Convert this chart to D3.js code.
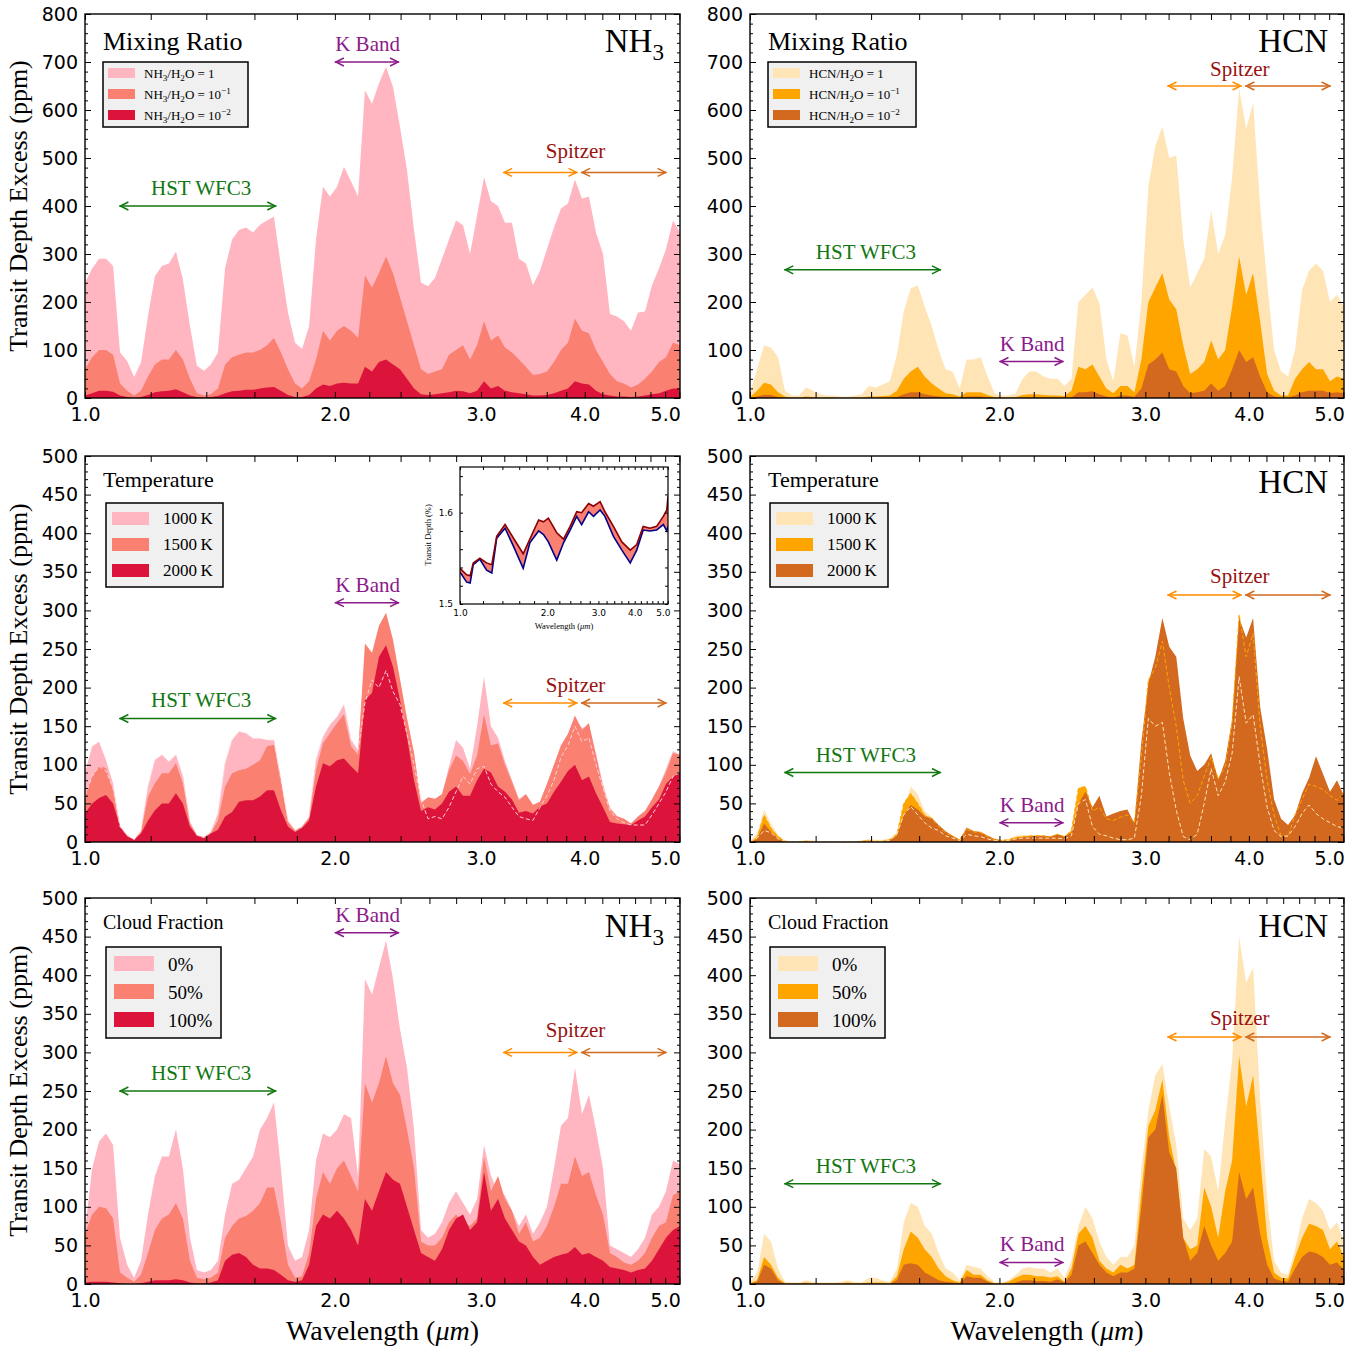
<!DOCTYPE html>
<html>
<head>
<meta charset="utf-8">
<script src="https://cdn.jsdelivr.net/npm/d3@7"></script>
<style>
  body { margin: 0; background: #fff; }
  svg { display: block; }
</style>
</head>
<body>
<svg id="chart"></svg>
<script>
// ---- wavelength grid (micron), shared by all six panels
const wave = [1.000,1.020,1.040,1.060,1.081,1.102,1.124,1.146,1.168,1.191,
  1.214,1.238,1.262,1.287,1.312,1.338,1.364,1.391,1.418,1.446,
  1.475,1.504,1.533,1.563,1.594,1.625,1.657,1.689,1.722,1.756,
  1.791,1.826,1.862,1.898,1.935,1.973,2.012,2.051,2.092,2.133,
  2.174,2.217,2.260,2.305,2.350,2.396,2.443,2.491,2.540,2.590,
  2.640,2.692,2.745,2.799,2.854,2.910,2.967,3.025,3.084,3.145,
  3.206,3.269,3.333,3.398,3.465,3.533,3.602,3.673,3.745,3.818,
  3.893,3.970,4.047,4.127,4.208,4.290,4.374,4.460,4.548,4.637,
  4.728,4.820,4.915,5.011,5.110,5.210];

// ---- top row: mixing ratio (ppm)
const aPink = [240,270,290,290,275,95,77,44,74,171, 254,275,280,305,247,150,67,57,70,95,
  271,330,350,355,345,361,370,378,275,178, 115,102,150,330,440,420,440,482,451,420,
  641,613,655,690,648,565,475,350,240,233, 250,290,330,370,360,300,380,460,410,400,
  365,365,290,280,235,265,310,355,395,405, 455,415,420,345,300,175,170,160,140,178,
  180,235,270,310,370,345];
const aMid = [60,85,100,100,90,30,15,5,15,45, 70,80,80,100,80,40,10,5,8,20,
  70,85,90,95,95,100,110,125,95,60, 30,20,35,80,140,120,140,150,140,125,
  255,230,260,295,260,210,160,110,60,50, 55,60,90,100,110,80,110,160,120,130,
  105,95,80,65,48,50,55,75,100,115, 165,140,135,100,75,50,35,30,22,28,
  40,55,75,85,115,110];
const aLow = [5,10,15,15,13,5,2,0,2,6, 12,14,15,18,12,5,2,1,2,4,
  10,14,15,17,17,20,22,23,15,6, 2,2,6,20,28,25,30,32,30,30,
  65,55,75,80,70,60,40,20,8,6, 8,10,12,15,14,10,15,35,20,25,
  15,12,10,8,5,5,6,10,15,20, 35,30,28,15,8,5,3,3,2,3,
  5,8,10,15,20,20];
const bLight = [10,60,110,105,85,15,5,5,22,15, 8,5,5,3,3,5,8,25,22,28,
  35,90,180,228,235,190,150,100,60,55, 20,80,80,85,45,10,5,5,10,40,
  55,55,45,40,40,25,40,200,215,230, 198,80,35,135,130,65,200,440,525,565,
  500,505,330,230,260,290,390,300,340,460, 645,560,615,400,240,100,55,45,100,225,
  265,280,265,200,215,190];
const bMid = [2,15,32,28,12,3,1,1,3,2, 1,1,1,0,0,1,1,3,3,4,
  5,15,40,55,65,45,30,20,10,8, 3,12,12,12,6,2,1,1,2,6,
  8,8,6,5,5,4,15,65,60,70, 45,20,10,25,25,12,80,200,230,260,
  205,185,110,50,60,75,120,80,100,190, 295,215,260,160,50,15,5,5,40,60,
  75,60,60,35,45,40];
const bLow = [0,3,7,6,2,0,0,0,0,0, 0,0,0,0,0,0,0,0,0,0,
  1,2,8,12,12,8,5,3,2,1, 0,3,3,3,1,0,0,0,0,1,
  1,1,1,1,1,0,1,12,12,14, 8,3,1,5,5,2,20,70,80,95,
  60,55,25,10,12,15,30,15,25,60, 100,75,85,45,12,3,1,1,5,12,
  15,15,15,10,12,10];

// ---- middle row: temperature (ppm)
const cPink = [90,124,130,106,76,20,9,3,15,72, 106,113,104,113,85,26,9,6,13,37,
  102,132,143,141,134,134,132,132,80,28, 15,20,33,106,136,152,162,178,132,119,
  240,235,265,280,250,205,160,115,52,57, 55,62,98,132,122,95,150,214,150,135,
  105,80,56,62,48,52,75,100,125,140, 160,148,150,115,75,45,34,30,24,33,
  40,55,72,95,118,113];
const cSalmon = [59,85,98,96,67,20,8,3,13,59, 76,89,89,102,76,24,9,6,12,28,
  72,89,93,95,100,106,124,126,80,26, 15,20,31,93,128,141,154,165,124,113,
  257,245,280,297,262,211,160,115,50,58, 56,62,93,112,105,88,112,165,125,128,
  100,78,54,62,48,52,75,100,125,140, 164,145,154,112,70,42,33,30,24,33,
  40,55,72,90,115,113];
const cCrimson = [37,50,57,61,50,20,7,3,11,28, 41,50,50,63,50,20,8,5,11,16,
  33,39,52,54,54,59,67,67,41,20, 13,18,28,72,102,98,106,108,98,89,
  184,193,240,255,227,184,136,80,40,45, 42,50,65,72,60,60,80,95,90,72,
  65,55,38,40,37,46,50,65,78,92, 100,80,85,63,45,26,24,23,22,28,
  33,45,55,75,85,89];
const cDash = [60,85,98,92,70,20,9,3,15,72, 106,113,104,113,85,26,9,6,13,37,
  102,132,143,141,134,134,132,132,80,28, 15,20,33,106,136,152,162,178,132,119,
  180,210,200,222,195,178,140,100,55,30, 33,30,45,65,85,75,95,98,75,65,
  58,45,33,30,28,45,60,80,110,125, 150,130,135,100,70,40,30,25,22,22,
  22,35,50,65,85,90];
const dLight = [2,11,42,24,9,2,1,1,3,2, 1,1,1,1,1,1,2,4,3,3,
  5,12,40,72,62,40,32,22,14,8, 4,20,15,14,9,5,3,4,8,9,
  8,8,7,6,8,5,12,60,55,30, 35,20,8,5,5,5,60,160,150,155,
  90,41,7,3,10,50,95,60,78,115, 214,154,165,100,45,15,7,8,20,37,
  48,37,30,25,20,18];
const dOrange = [0,6,35,18,7,1,0,0,1,0, 0,0,0,0,0,0,1,2,1,1,
  3,10,50,63,50,35,30,20,12,7, 3,16,13,12,7,3,2,3,6,7,
  8,8,8,7,10,7,15,70,72,40, 45,30,28,32,35,26,110,210,225,260,
  200,150,80,50,60,85,110,82,98,155, 295,240,270,150,80,35,8,7,35,55,
  75,72,68,60,54,63];
const dDark = [0,4,24,13,5,1,0,0,1,0, 0,0,0,0,0,0,1,2,1,1,
  3,8,35,48,42,33,31,22,14,8, 3,18,14,13,8,4,2,2,5,6,
  7,8,8,7,10,7,12,50,65,45, 60,33,37,40,42,24,130,205,240,290,
  253,240,160,112,92,100,115,80,105,158, 290,265,290,175,120,55,30,22,35,63,
  83,111,88,65,80,60];
const dDash = [1,5,15,12,4,1,0,0,0,0, 0,0,0,0,0,0,0,1,1,1,
  2,10,35,46,35,25,18,15,8,5, 2,10,8,7,4,2,1,2,4,5,
  5,5,5,5,5,4,8,50,55,20, 10,8,5,3,3,5,60,160,150,155,
  90,41,7,3,10,50,95,60,78,115, 214,154,165,100,45,15,7,8,20,37,
  48,37,30,25,20,18];

// ---- bottom row: cloud fraction (ppm)
const ePink = [70,150,185,195,180,60,25,8,30,90, 140,165,165,200,150,60,18,15,18,30,
  90,130,135,150,165,200,215,235,150,50, 30,35,70,160,195,190,200,220,215,140,
  395,375,410,445,395,330,280,200,70,60, 65,80,105,120,105,90,110,180,140,120,
  115,95,75,90,65,80,100,150,205,215, 280,220,245,200,150,50,45,40,35,45,
  60,90,100,120,160,155];
const eSalmon = [65,90,100,98,85,15,8,3,12,40, 70,85,90,105,85,30,8,6,8,15,
  60,75,85,88,95,105,125,125,80,25, 8,10,40,110,145,130,150,160,140,120,
  260,235,260,295,260,245,200,150,55,50, 50,60,80,90,80,75,85,165,120,140,
  110,95,65,80,55,60,75,100,130,130, 165,140,145,115,90,40,35,28,25,30,
  40,60,75,80,115,120];
const eCrimson = [2,3,3,3,2,1,0,0,1,3, 5,5,5,6,5,2,1,1,2,5,
  30,38,40,35,25,20,20,18,12,5, 3,5,25,75,90,85,95,85,70,50,
  110,95,120,145,135,130,100,70,40,35, 30,45,70,85,90,70,80,145,95,110,
  85,70,55,50,35,25,30,35,38,40, 48,38,40,35,30,22,20,18,15,18,
  20,30,45,60,70,75];
const fLight = [3,15,65,55,20,3,2,2,5,3, 2,2,2,3,5,3,2,8,8,5,
  3,20,80,105,100,75,65,40,20,15, 5,25,22,20,10,3,2,5,12,20,
  22,20,20,15,20,8,30,75,100,85, 55,35,25,35,35,50,150,225,270,285,
  230,180,85,70,85,175,165,120,210,290, 450,390,410,240,110,30,15,12,45,85,
  110,105,95,70,80,55];
const fMid = [1,5,35,25,8,1,1,1,2,1, 1,1,1,1,2,1,1,2,2,2,
  1,10,45,68,60,45,35,20,10,5, 2,18,12,12,5,1,1,3,8,12,
  12,10,10,8,10,3,20,65,75,60, 30,20,15,25,20,25,120,205,225,265,
  190,145,60,45,50,125,100,60,120,160, 295,230,270,165,60,15,8,7,35,60,
  78,75,70,45,55,35];
const fDark = [0,3,25,20,5,0,0,0,0,0, 0,0,0,0,0,0,0,0,0,0,
  0,5,25,27,25,15,10,5,3,2, 1,10,8,8,3,0,0,0,2,5,
  5,4,4,3,6,2,12,50,55,40, 25,15,10,15,15,20,100,190,200,245,
  170,150,60,30,40,75,50,30,40,55, 145,110,125,65,25,7,4,3,20,35,
  42,40,35,25,28,18];

// ---- inset (transit depth, %)
const insetWave = [1.0,1.054,1.084,1.111,1.171,1.235,1.287,1.338,1.430,1.529,1.651,1.741,1.866,1.940,
  2.016,2.155,2.274,2.396,2.525,2.625,2.775,2.884,3.040,3.159,3.379,3.612,3.861,4.065,4.279,4.513,
  4.761,5.020,5.160,5.21];
const insetRed = [1.539,1.532,1.531,1.545,1.550,1.545,1.543,1.574,1.587,1.572,1.555,1.571,1.592,1.590,
  1.594,1.578,1.571,1.585,1.601,1.600,1.610,1.607,1.612,1.601,1.585,1.568,1.559,1.565,1.585,1.583,
  1.585,1.596,1.603,1.618];
const insetBlue = [1.535,1.524,1.523,1.543,1.549,1.537,1.534,1.572,1.583,1.563,1.539,1.567,1.580,1.576,
  1.568,1.548,1.567,1.581,1.596,1.587,1.601,1.596,1.603,1.596,1.574,1.559,1.545,1.559,1.581,1.580,
  1.581,1.587,1.580,1.585];

// ---- labels and ticks
const xTickLabels = [1, 2, 3, 4, 5];
const mixNH3Labels = ["NH_{3}/H_{2}O = 1", "NH_{3}/H_{2}O = 10^{\u22121}", "NH_{3}/H_{2}O = 10^{\u22122}"];
const mixHCNLabels = ["HCN/H_{2}O = 1", "HCN/H_{2}O = 10^{\u22121}", "HCN/H_{2}O = 10^{\u22122}"];
const tempLabels = ["1000\u2009K", "1500\u2009K", "2000\u2009K"];
const cloudLabels = ["0%", "50%", "100%"];
const nh3Colors = ["#ffb6c1", "#fa8072", "#dc143c"];
const hcnColors = ["#ffe4b5", "#ffa500", "#d2691e"];

const serif = '"Liberation Serif", "Times New Roman", serif';
const sans = '"DejaVu Sans", sans-serif';
const svg = d3.select('#chart').attr('width', 1371).attr('height', 1348);

// text with _{sub} and ^{sup}
function addRich(t, str, fs) {
  const re = /([_^])\{([^}]*)\}/g;
  let last = 0, m, back = 0;
  const plain = s => {
    if (!s) return;
    const ts = t.append('tspan').text(s);
    if (back) { ts.attr('dy', back); back = 0; }
  };
  while ((m = re.exec(str)) !== null) {
    plain(str.slice(last, m.index));
    const shift = m[1] === '_' ? fs * 0.25 : -fs * 0.38;
    t.append('tspan').attr('font-size', fs * 0.7).attr('dy', shift + back).text(m[2]);
    back = -shift;
    last = re.lastIndex;
  }
  plain(str.slice(last));
}

function drawArrow(g, x1, x2, yv, color) {
  g.append('line').attr('x1', x1).attr('x2', x2).attr('y1', yv).attr('y2', yv)
    .attr('stroke', color).attr('stroke-width', 1.5);
  g.append('path').attr('d', `M${x1 + 9},${yv - 4}L${x1 + 1},${yv}L${x1 + 9},${yv + 4}`)
    .attr('fill', 'none').attr('stroke', color).attr('stroke-width', 1.5);
  g.append('path').attr('d', `M${x2 - 9},${yv - 4}L${x2 - 1},${yv}L${x2 - 9},${yv + 4}`)
    .attr('fill', 'none').attr('stroke', color).attr('stroke-width', 1.5);
}

function annText(g, xv, yv, str, color) {
  g.append('text').attr('x', xv).attr('y', yv).attr('text-anchor', 'middle')
    .attr('font-family', serif).attr('font-size', 21).attr('fill', color).text(str);
}

function styleAxis(sel, fs, family) {
  sel.select('.domain').remove();
  sel.selectAll('line').attr('stroke', '#000').attr('stroke-width', 1);
  sel.selectAll('text').attr('font-size', fs).attr('font-family', family).attr('fill', '#000');
}

const panels = [
  {key: 'A', left: 85, right: 680, top: 14, bottom: 398, ymax: 800, yMajor: 100, yMinor: 20,
   fills: [aPink, aMid, aLow], colors: nh3Colors, labels: mixNH3Labels,
   legend: {x: 103, y: 62, w: 145, h: 65, swX: 5, swY: 6, swW: 27, swH: 10, rowH: 21, txX: 41, txY: 16, fs: 13},
   title: 'Mixing Ratio', titleFs: 26, titleDy: 36, mol: 'NH_{3}', molDy: 38,
   hst: 400, kb: 700, sp: 470, spGap: 14},
  {key: 'B', left: 750, right: 1344, top: 14, bottom: 398, ymax: 800, yMajor: 100, yMinor: 20,
   fills: [bLight, bMid, bLow], colors: hcnColors, labels: mixHCNLabels,
   legend: {x: 768, y: 62, w: 148, h: 65, swX: 5, swY: 6, swW: 27, swH: 10, rowH: 21, txX: 41, txY: 16, fs: 13},
   title: 'Mixing Ratio', titleFs: 26, titleDy: 36, mol: 'HCN', molDy: 38,
   hst: 267, kb: 76, sp: 650, spGap: 10},
  {key: 'C', left: 85, right: 680, top: 456, bottom: 842, ymax: 500, yMajor: 50, yMinor: 10,
   fills: [cPink, cSalmon, cCrimson], colors: nh3Colors, labels: tempLabels,
   dashes: [{data: cDash, color: '#ffd3da'}],
   legend: {x: 106, y: 503, w: 117, h: 84, swX: 6, swY: 9, swW: 37, swH: 13, rowH: 26, txX: 57, txY: 21, fs: 17},
   title: 'Temperature', titleFs: 22, titleDy: 31, mol: null,
   hst: 160, kb: 310, sp: 180, spGap: 11, inset: true},
  {key: 'D', left: 750, right: 1344, top: 456, bottom: 842, ymax: 500, yMajor: 50, yMinor: 10,
   fills: [dLight, dOrange, dDark], colors: hcnColors, labels: tempLabels,
   dashes: [{data: dOrange, color: '#ffa500'}, {data: dDash, color: '#ffe4b5'}],
   legend: {x: 770, y: 503, w: 118, h: 84, swX: 6, swY: 9, swW: 37, swH: 13, rowH: 26, txX: 57, txY: 21, fs: 17},
   title: 'Temperature', titleFs: 22, titleDy: 31, mol: 'HCN', molDy: 37,
   hst: 90, kb: 25, sp: 320, spGap: 12},
  {key: 'E', left: 85, right: 680, top: 898, bottom: 1284, ymax: 500, yMajor: 50, yMinor: 10,
   fills: [ePink, eSalmon, eCrimson], colors: nh3Colors, labels: cloudLabels,
   legend: {x: 106, y: 947, w: 115, h: 91, swX: 8, swY: 9, swW: 40, swH: 15, rowH: 28, txX: 62, txY: 24, fs: 19},
   title: 'Cloud Fraction', titleFs: 20, titleDy: 31, mol: 'NH_{3}', molDy: 39,
   hst: 250, kb: 455, sp: 300, spGap: 15},
  {key: 'F', left: 750, right: 1344, top: 898, bottom: 1284, ymax: 500, yMajor: 50, yMinor: 10,
   fills: [fLight, fMid, fDark], colors: hcnColors, labels: cloudLabels,
   legend: {x: 770, y: 947, w: 115, h: 91, swX: 8, swY: 9, swW: 40, swH: 15, rowH: 28, txX: 62, txY: 24, fs: 19},
   title: 'Cloud Fraction', titleFs: 20, titleDy: 31, mol: 'HCN', molDy: 39,
   hst: 130, kb: 28, sp: 320, spGap: 12}
];

function drawPanel(p) {
  const g = svg.append('g');
  const x = d3.scaleLog().domain([1, 5.21]).range([p.left, p.right]);
  const y = d3.scaleLinear().domain([0, p.ymax]).range([p.bottom, p.top]);

  svg.append('clipPath').attr('id', 'clip' + p.key).append('rect')
    .attr('x', p.left).attr('y', p.top).attr('width', p.right - p.left).attr('height', p.bottom - p.top);
  const plot = g.append('g').attr('clip-path', `url(#clip${p.key})`);

  const area = d3.area().x((d, i) => x(wave[i])).y0(y(0)).y1(d => y(d));
  p.fills.forEach((s, i) => plot.append('path').datum(s).attr('d', area).attr('fill', p.colors[i]));
  const line = d3.line().x((d, i) => x(wave[i])).y(d => y(d));
  (p.dashes || []).forEach(ds => plot.append('path').datum(ds.data).attr('d', line)
    .attr('fill', 'none').attr('stroke', ds.color).attr('stroke-width', 1).attr('stroke-dasharray', '4,2.5'));

  // band annotations
  drawArrow(g, x(1.1), x(1.7), y(p.hst), '#117711');
  annText(g, x(1.38), y(p.hst) - 11, 'HST WFC3', '#117711');
  drawArrow(g, x(2.0), x(2.39), y(p.kb), '#8b1a8b');
  annText(g, x(2.19), y(p.kb) - 11, 'K Band', '#8b1a8b');
  drawArrow(g, x(3.19), x(3.92), y(p.sp), '#ff8c00');
  drawArrow(g, x(3.96), x(5.02), y(p.sp), '#d2691e');
  annText(g, x(3.9), y(p.sp) - p.spGap, 'Spitzer', '#991111');

  // axes, ticks pointing in
  const xMinor = d3.range(10, 53, 2).map(v => v / 10);
  const yMaj = d3.range(0, p.ymax + 1, p.yMajor);
  const yMin = d3.range(0, p.ymax + 1, p.yMinor).filter(v => v % p.yMajor !== 0);
  const fmtX = d => xTickLabels.includes(d) ? d.toFixed(1) : '';

  styleAxis(g.append('g').attr('transform', `translate(0,${p.bottom})`)
    .call(d3.axisBottom(x).tickValues(xMinor).tickFormat(fmtX).tickSize(-6).tickPadding(10)), 19, sans);
  styleAxis(g.append('g').attr('transform', `translate(0,${p.top})`)
    .call(d3.axisTop(x).tickValues(xMinor).tickFormat('').tickSize(-6)), 19, sans);
  styleAxis(g.append('g').attr('transform', `translate(${p.left},0)`)
    .call(d3.axisLeft(y).tickValues(yMaj).tickFormat(d3.format('d')).tickSize(-6).tickPadding(7)), 19, sans);
  styleAxis(g.append('g').attr('transform', `translate(${p.left},0)`)
    .call(d3.axisLeft(y).tickValues(yMin).tickFormat('').tickSize(-3)), 19, sans);
  styleAxis(g.append('g').attr('transform', `translate(${p.right},0)`)
    .call(d3.axisRight(y).tickValues(yMaj).tickFormat('').tickSize(-6)), 19, sans);
  styleAxis(g.append('g').attr('transform', `translate(${p.right},0)`)
    .call(d3.axisRight(y).tickValues(yMin).tickFormat('').tickSize(-3)), 19, sans);

  g.append('rect').attr('x', p.left).attr('y', p.top)
    .attr('width', p.right - p.left).attr('height', p.bottom - p.top)
    .attr('fill', 'none').attr('stroke', '#000').attr('stroke-width', 1.4);

  // titles
  g.append('text').attr('x', p.left + 18).attr('y', p.top + p.titleDy)
    .attr('font-family', serif).attr('font-size', p.titleFs).text(p.title);
  if (p.mol) {
    const t = g.append('text').attr('x', p.right - 16).attr('y', p.top + p.molDy)
      .attr('text-anchor', 'end').attr('font-family', serif).attr('font-size', 33);
    addRich(t, p.mol, 33);
  }

  // legend
  const lg = p.legend;
  g.append('rect').attr('x', lg.x).attr('y', lg.y).attr('width', lg.w).attr('height', lg.h)
    .attr('fill', '#f0f0f0').attr('stroke', '#000').attr('stroke-width', 1.5);
  p.labels.forEach((lab, i) => {
    g.append('rect').attr('x', lg.x + lg.swX).attr('y', lg.y + lg.swY + i * lg.rowH)
      .attr('width', lg.swW).attr('height', lg.swH).attr('fill', p.colors[i]);
    const t = g.append('text').attr('x', lg.x + lg.txX).attr('y', lg.y + lg.txY + i * lg.rowH)
      .attr('font-family', serif).attr('font-size', lg.fs);
    addRich(t, lab, lg.fs);
  });

  if (p.inset) drawInset();
}

function drawInset() {
  const box = {left: 460, right: 668, top: 467, bottom: 604};
  const g = svg.append('g');
  const x = d3.scaleLog().domain([1, 5.21]).range([box.left, box.right]);
  const y = d3.scaleLinear().domain([1.5, 1.65]).range([box.bottom, box.top]);
  g.append('rect').attr('x', box.left).attr('y', box.top)
    .attr('width', box.right - box.left).attr('height', box.bottom - box.top).attr('fill', '#fff');
  svg.append('clipPath').attr('id', 'clipInset').append('rect')
    .attr('x', box.left).attr('y', box.top).attr('width', box.right - box.left).attr('height', box.bottom - box.top);
  const plot = g.append('g').attr('clip-path', 'url(#clipInset)');
  const band = d3.area().x((d, i) => x(insetWave[i])).y0((d, i) => y(insetBlue[i])).y1(d => y(d));
  plot.append('path').datum(insetRed).attr('d', band).attr('fill', '#fa8072');
  const line = d3.line().x((d, i) => x(insetWave[i])).y(d => y(d));
  plot.append('path').datum(insetBlue).attr('d', line).attr('fill', 'none').attr('stroke', '#00008b').attr('stroke-width', 1.6);
  plot.append('path').datum(insetRed).attr('d', line).attr('fill', 'none').attr('stroke', '#8b0000').attr('stroke-width', 1.6);

  const xMinor = d3.range(10, 53, 2).map(v => v / 10);
  const fmtX = d => xTickLabels.includes(d) ? d.toFixed(1) : '';
  const yTicks = d3.range(0, 8).map(i => 1.5 + i * 0.02);
  styleAxis(g.append('g').attr('transform', `translate(0,${box.bottom})`)
    .call(d3.axisBottom(x).tickValues(xMinor).tickFormat(fmtX).tickSize(-3).tickPadding(6)), 9, sans);
  styleAxis(g.append('g').attr('transform', `translate(0,${box.top})`)
    .call(d3.axisTop(x).tickValues(xMinor).tickFormat('').tickSize(-3)), 9, sans);
  styleAxis(g.append('g').attr('transform', `translate(${box.left},0)`)
    .call(d3.axisLeft(y).tickValues(yTicks).tickFormat(d => [1.5, 1.6].some(v => Math.abs(v - d) < 1e-6) ? d.toFixed(1) : '')
      .tickSize(-3).tickPadding(7)), 9, sans);
  styleAxis(g.append('g').attr('transform', `translate(${box.right},0)`)
    .call(d3.axisRight(y).tickValues(yTicks).tickFormat('').tickSize(-3)), 9, sans);
  g.append('rect').attr('x', box.left).attr('y', box.top)
    .attr('width', box.right - box.left).attr('height', box.bottom - box.top)
    .attr('fill', 'none').attr('stroke', '#000').attr('stroke-width', 1.2);

  const xl = g.append('text').attr('x', 564).attr('y', 629).attr('text-anchor', 'middle')
    .attr('font-family', serif).attr('font-size', 8.5);
  xl.append('tspan').text('Wavelength (');
  xl.append('tspan').attr('font-style', 'italic').text('\u03bcm');
  xl.append('tspan').text(')');
  g.append('text').attr('transform', 'translate(431,535) rotate(-90)').attr('text-anchor', 'middle')
    .attr('font-family', serif).attr('font-size', 8.5).text('Transit Depth (%)');
}

panels.forEach(drawPanel);

// shared axis titles
[206, 649, 1091].forEach(cy => {
  svg.append('text').attr('transform', `translate(27,${cy}) rotate(-90)`).attr('text-anchor', 'middle')
    .attr('font-family', serif).attr('font-size', 26).text('Transit Depth Excess (ppm)');
});
[382.5, 1047].forEach(cx => {
  const t = svg.append('text').attr('x', cx).attr('y', 1340).attr('text-anchor', 'middle')
    .attr('font-family', serif).attr('font-size', 28);
  t.append('tspan').text('Wavelength (');
  t.append('tspan').attr('font-style', 'italic').text('\u03bcm');
  t.append('tspan').text(')');
});
</script>
</body>
</html>
